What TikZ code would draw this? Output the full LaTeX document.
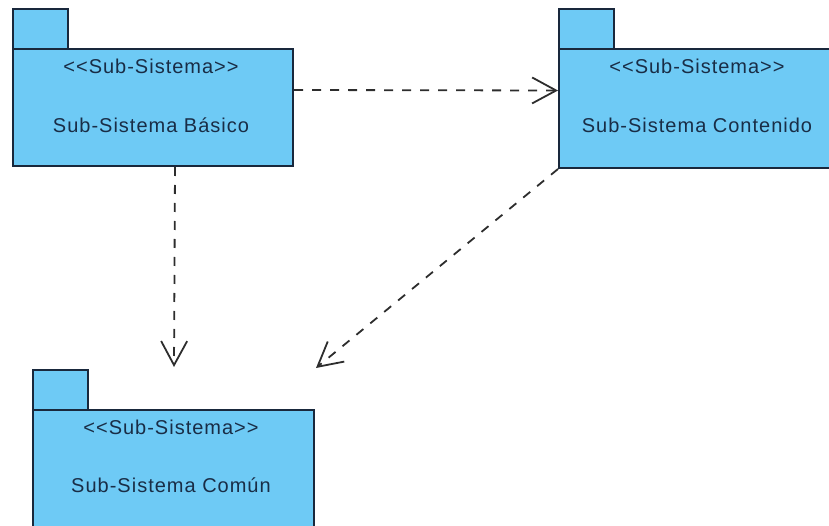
\documentclass[tikz,border=0pt]{standalone}
\usepackage{fontspec}
\setmainfont{Liberation Sans}[Ligatures=TeXOff]
\newfontfamily\pkgfont{Liberation Sans}[Ligatures=TeXOff,LetterSpace=5]
\usetikzlibrary{arrows.meta}
\definecolor{pkgfill}{RGB}{110,202,245}
\definecolor{pkgline}{RGB}{25,40,60}
\definecolor{pkgtext}{RGB}{25,45,70}
\definecolor{depline}{RGB}{45,45,45}
\tikzset{
  pkgbody/.style={draw=pkgline, fill=pkgfill, line width=2pt, rectangle, inner sep=0pt,
    minimum width=280pt, minimum height=117pt, anchor=north west},
  pkgtab/.style={draw=pkgline, fill=pkgfill, line width=2pt, rectangle, inner sep=0pt,
    minimum width=55pt, minimum height=40pt, anchor=north west},
  pkglabel/.style={text=pkgtext, font=\pkgfont\fontsize{20}{23}\selectfont, inner sep=0pt},
  dep/.style={draw=depline, line width=1.8pt, dash pattern=on 9pt off 9pt,
    -{Straight Barb[length=24pt,width=26pt,line width=1.8pt]}}
}
\begin{document}
\begin{tikzpicture}[x=1pt,y=-1pt]
\useasboundingbox (0,0) rectangle (829,526);
% Package 1
\node[pkgtab] (t1) at (12,8) {};
\node[pkgbody] (b1) at (12,48) {};
\node[pkglabel] (s1) at (151,66) {<<Sub-Sistema>>};
\node[pkglabel] (n1) at (151,125) {Sub-Sistema Básico};
% Package 2
\node[pkgtab] (t2) at (558,8) {};
\node[pkgbody, minimum height=119pt] (b2) at (558,48) {};
\node[pkglabel] (s2) at (697,66) {<<Sub-Sistema>>};
\node[pkglabel] (n2) at (697,125) {Sub-Sistema Contenido};
% Package 3
\node[pkgtab] (t3) at (32,369) {};
\node[pkgbody, minimum width=281pt, minimum height=122pt] (b3) at (32,409) {};
\node[pkglabel] (s3) at (171,427) {<<Sub-Sistema>>};
\node[pkglabel] (n3) at (171,485) {Sub-Sistema Común};
% connector endpoints
\coordinate (v1) at (174,367);
\coordinate (d1) at (316,368);
% Dependencies
\draw[dep] ([yshift=17.5pt]b1.east) -- ([yshift=18pt]b2.west);
\draw[dep] ([xshift=22pt]b1.south) -- (v1);
\draw[dep] (b2.south west) -- (d1);
\end{tikzpicture}
\end{document}
